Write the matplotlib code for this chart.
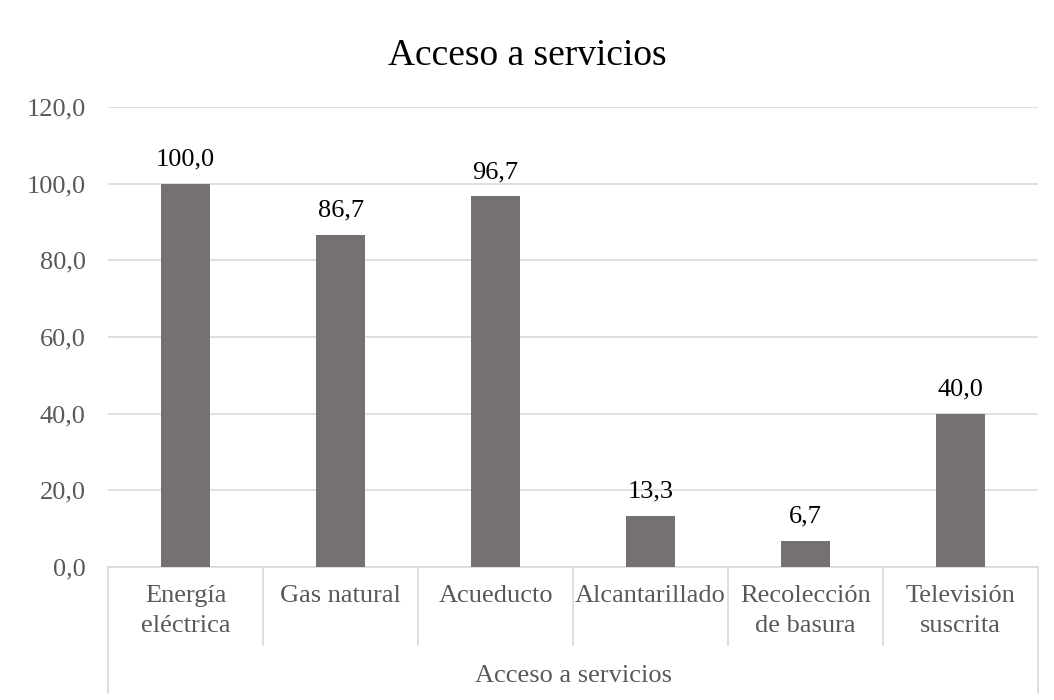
import matplotlib
matplotlib.use("Agg")
import matplotlib.pyplot as plt
import matplotlib.transforms as mtransforms

plt.rcParams['font.family'] = ['Liberation Serif', 'DejaVu Serif']

# データ
categorias = ["Energía\neléctrica", "Gas natural", "Acueducto", "Alcantarillado",
              "Recolección\nde basura", "Televisión\nsuscrita"]
valores = [100.0, 86.7, 96.7, 13.3, 6.7, 40.0]
titulo = "Acceso a servicios"
grupo = "Acceso a servicios"
yticks = [0, 20, 40, 60, 80, 100, 120]

fig = plt.figure(figsize=(10.54, 7.0), dpi=100)
ax = fig.add_axes([0.1025, 0.19, 0.8825, 0.657])

x = list(range(len(valores)))
ax.bar(x, valores, width=0.32, color="#767171", zorder=3)

# ラベル
for xi, v in zip(x, valores):
    ax.text(xi, v + 3.5, f"{v:.1f}".replace(".", ","), ha="center", va="bottom",
            fontsize=19, color="black")

ax.set_xlim(-0.5, len(valores) - 0.5)
ax.set_ylim(0, 120)
ax.set_yticks(yticks)
ax.set_yticklabels([f"{t:.1f}".replace(".", ",") for t in yticks], fontsize=19, color="#595959")
ax.tick_params(axis="y", length=0, pad=16)
ax.set_xticks([])
ax.grid(axis="y", color="#d9d9d9", linewidth=1.2, zorder=0)
for s in ["top", "right", "left"]:
    ax.spines[s].set_visible(False)
ax.spines["bottom"].set_color("#d9d9d9")
ax.spines["bottom"].set_linewidth(1.2)

# カテゴリ軸
trans = mtransforms.blended_transform_factory(ax.transData, ax.transAxes)
n = len(valores)
for i in range(n + 1):
    xb = i - 0.5
    y1 = -0.274 if i in (0, n) else -0.17
    ax.plot([xb, xb], [0, y1], transform=trans, color="#d9d9d9", linewidth=1.2, clip_on=False)
for xi, c in zip(x, categorias):
    ax.text(xi, -0.04, c, transform=trans, ha="center", va="top", fontsize=19,
            color="#595959", linespacing=1.45)
ax.text((n - 1) / 2, -0.238, grupo, transform=trans, ha="center", va="center",
        fontsize=19, color="#595959")

fig.suptitle(titulo, fontsize=27, y=0.945)
fig.savefig("out.png", dpi=100)
